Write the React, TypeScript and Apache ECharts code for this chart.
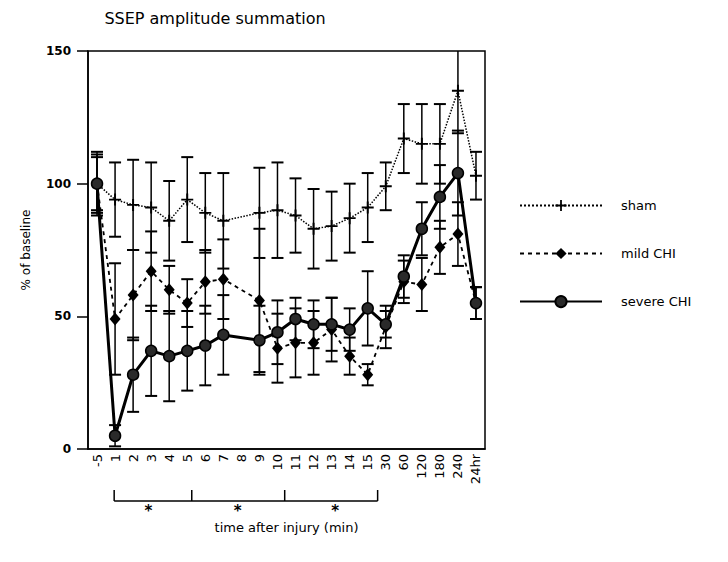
import React, { useEffect, useRef } from 'react';
import * as echarts from 'echarts';

const categories = ['-5', '1', '2', '3', '4', '5', '6', '7', '8', '9', '10', '11', '12', '13', '14', '15', '30', '60', '120', '180', '240', '24hr'];

const shamMean = [100, 94, 92, 91, 86, 94, 89, 86, null, 89, 90, 88, 83, 84, 87, 91, 99, 117, 115, 115, 135, 103];
const shamErr = [11, 14, 17, 17, 15, 16, 15, 18, null, 17, 18, 14, 15, 13, 13, 13, 9, 13, 15, 15, 16, 9];

const mildMean = [100, 49, 58, 67, 60, 55, 63, 64, null, 56, 38, 40, 40, 45, 35, 28, 46, 63, 62, 76, 81, 55];
const mildErr = [10, 21, 17, 15, 9, 9, 12, 15, null, 27, 13, 13, 12, 12, 7, 4, 8, 8, 10, 10, 12, 6];

const severeMean = [100, 5, 28, 37, 35, 37, 39, 43, null, 41, 44, 49, 47, 47, 45, 53, 47, 65, 83, 95, 104, 55];
const severeErr = [12, 4, 14, 17, 17, 15, 15, 15, null, 13, 12, 8, 9, 10, 8, 14, 5, 8, 10, 12, 16, 6];

const yTicks = [0, 50, 100, 150];

// bracket annotation positions in category-index units
const bracketEnds = [0.95, 5.25, 10.4, 15.55];
const starPositions = [2.85, 7.8, 13.2];

const FONT = '"DejaVu Sans", Verdana, sans-serif';
const PLUS = 'path://M4.2,0 H5.8 V4.2 H10 V5.8 H5.8 V10 H4.2 V5.8 H0 V4.2 H4.2 Z';

function errData(mean: (number | null)[], err: (number | null)[]) {
  const out: number[][] = [];
  mean.forEach((m, i) => {
    const e = err[i];
    if (m != null && e != null) out.push([i, m - e, m + e]);
  });
  return out;
}

function errSeries(name: string, data: number[][], z: number) {
  return {
    name,
    type: 'custom',
    z,
    silent: true,
    encode: { x: 0, y: [1, 2] },
    data,
    renderItem: (params: any, api: any) => {
      const x = api.value(0);
      const lo = Math.max(0, api.value(1));
      const rawHi = api.value(2);
      const hi = Math.min(150, rawHi);
      const pLo = api.coord([x, lo]);
      const pHi = api.coord([x, hi]);
      const w = 6;
      const children: any[] = [
        { type: 'line', shape: { x1: pLo[0], y1: pLo[1], x2: pHi[0], y2: pHi[1] }, style: { stroke: '#000', lineWidth: 1.5 } },
        { type: 'line', shape: { x1: pLo[0] - w, y1: pLo[1], x2: pLo[0] + w, y2: pLo[1] }, style: { stroke: '#000', lineWidth: 2 } },
      ];
      if (rawHi <= 150) {
        children.push({ type: 'line', shape: { x1: pHi[0] - w, y1: pHi[1], x2: pHi[0] + w, y2: pHi[1] }, style: { stroke: '#000', lineWidth: 2 } });
      }
      return { type: 'group', children };
    },
  };
}

export default function App() {
  const ref = useRef<HTMLDivElement>(null);
  useEffect(() => {
    if (!ref.current) return;
    const chart = echarts.init(ref.current, null, { renderer: 'svg' });
    const option: any = {
      animation: false,
      backgroundColor: '#fff',
      textStyle: { fontFamily: FONT },
      grid: { left: 88, right: 243, top: 51, bottom: 113, show: true, borderColor: '#000', borderWidth: 1.5, backgroundColor: 'transparent' },
      legend: {
        orient: 'vertical',
        left: 514,
        top: 194,
        itemWidth: 82,
        itemHeight: 14,
        itemGap: 35,
        data: ['sham', 'mild CHI', 'severe CHI'],
        textStyle: { fontSize: 13, color: '#000', fontFamily: FONT, padding: [0, 0, 0, 14] },
      },
      xAxis: {
        type: 'category',
        data: categories,
        boundaryGap: true,
        name: 'time after injury (min)',
        nameLocation: 'middle',
        nameGap: 72,
        nameTextStyle: { fontSize: 13, color: '#000', fontFamily: FONT },
        axisLine: { lineStyle: { color: '#000', width: 1.5 } },
        axisTick: { alignWithLabel: true, length: 8, lineStyle: { color: '#000', width: 1.5 } },
        axisLabel: { rotate: 90, interval: 0, fontSize: 13, color: '#000', margin: 5, fontFamily: FONT },
        splitLine: { show: false },
      },
      yAxis: {
        type: 'value',
        min: yTicks[0],
        max: yTicks[yTicks.length - 1],
        interval: 50,
        name: '% of baseline',
        nameLocation: 'middle',
        nameRotate: 90,
        nameGap: 56,
        nameTextStyle: { fontSize: 12, color: '#000', fontFamily: FONT },
        axisLine: { show: true, lineStyle: { color: '#000', width: 1.5 } },
        axisTick: { show: true, length: 11, lineStyle: { color: '#000', width: 1.5 } },
        axisLabel: { fontSize: 12, fontWeight: 'bold', color: '#000', margin: 17, fontFamily: FONT },
        splitLine: { show: false },
      },
      series: [
        errSeries('sham-err', errData(shamMean, shamErr), 1),
        errSeries('mild-err', errData(mildMean, mildErr), 1),
        errSeries('severe-err', errData(severeMean, severeErr), 1),
        {
          name: 'sham',
          type: 'line',
          data: shamMean,
          connectNulls: true,
          z: 3,
          symbol: PLUS,
          symbolSize: 12,
          lineStyle: { color: '#000', width: 1.5, type: 'dotted' },
          itemStyle: { color: '#000' },
        },
        {
          name: 'mild CHI',
          type: 'line',
          data: mildMean,
          connectNulls: true,
          z: 4,
          symbol: 'diamond',
          symbolSize: [11, 13],
          lineStyle: { color: '#000', width: 1.8, type: [4, 4] },
          itemStyle: { color: '#000' },
        },
        {
          name: 'severe CHI',
          type: 'line',
          data: severeMean,
          connectNulls: true,
          z: 5,
          symbol: 'circle',
          symbolSize: 11,
          lineStyle: { color: '#000', width: 3 },
          itemStyle: { color: '#2a2a2a', borderColor: '#000', borderWidth: 1.5 },
        },
      ],
    };
    chart.setOption(option);

    const p0 = chart.convertToPixel({ xAxisIndex: 0 }, categories[0]) as number;
    const p1 = chart.convertToPixel({ xAxisIndex: 0 }, categories[1]) as number;
    const band = p1 - p0;
    const px = (f: number) => p0 + f * band;
    const yTop = 490;
    const yBar = 501;
    const graphic: any[] = [
      {
        type: 'text',
        x: 215,
        y: 10,
        style: { text: 'SSEP amplitude summation', font: `16px ${FONT}`, fill: '#000', textAlign: 'center' },
      },
      {
        type: 'line',
        shape: { x1: px(bracketEnds[0]), y1: yBar, x2: px(bracketEnds[bracketEnds.length - 1]), y2: yBar },
        style: { stroke: '#000', lineWidth: 1.5 },
      },
    ];
    bracketEnds.forEach((f) => {
      graphic.push({ type: 'line', shape: { x1: px(f), y1: yTop, x2: px(f), y2: yBar }, style: { stroke: '#000', lineWidth: 1.5 } });
    });
    starPositions.forEach((f) => {
      graphic.push({
        type: 'text',
        x: px(f),
        y: 503,
        style: {
          text: '*',
          font: `bold 15px ${FONT}`,
          fill: '#000',
          textAlign: 'center',
          textVerticalAlign: 'top',
          verticalAlign: 'top',
        },
      });
    });
    chart.setOption({ graphic });

    return () => chart.dispose();
  }, []);
  return <div ref={ref} style={{ position: 'fixed', left: 0, top: 0, width: 728, height: 562 }} />;
}
